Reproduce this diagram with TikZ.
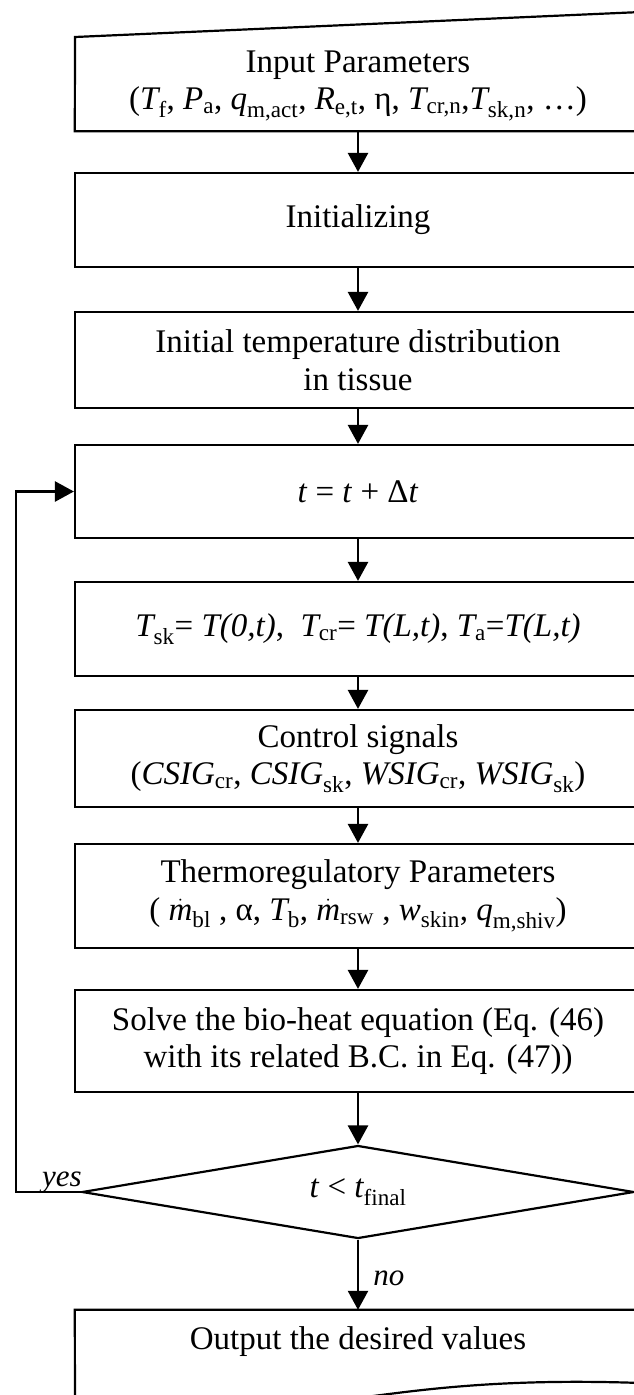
\documentclass[tikz,border=0pt]{standalone}
\usepackage{amsmath}
\usepackage{fontspec}
\setmainfont{Liberation Serif}
\usetikzlibrary{arrows.meta,shapes.geometric}
\newcommand\vi[2]{$\textit{#1}_{\text{#2}}$}
\newcommand\md[1]{$\dot{\text{\textit{m}}}_{\text{#1}}$}
\begin{document}
\begin{tikzpicture}[x=1pt,y=-1pt,
  lbl/.style={font=\fontsize{33}{37.5}\selectfont, align=center, inner sep=0pt},
  box/.style={lbl, draw, line width=2.2pt, minimum width=566pt},
  arr/.style={line width=2.6pt, -{Triangle[length=19pt,width=20pt]}},
  lab/.style={font=\fontsize{31}{34}\selectfont\itshape, inner sep=0pt}
]
\clip (0,0) rectangle (634,1395);
\fill[white] (0,0) rectangle (634,1395);
% input (manual input shape)
\node[lbl, minimum width=566pt, minimum height=90pt] (in) at (358,86)
  {Input Parameters\\(\vi{T}{f}, \vi{P}{a}, \vi{q}{m,act}, \vi{R}{e,t}, η, \vi{T}{cr,n},\vi{T}{sk,n}, …)};
\draw[line width=2.2pt] (in.south west) -- (75,37) -- (641,12) -- (in.south east) -- cycle;
\node[box, minimum height=94pt] (init) at (358,220) {Initializing};
\node[box, minimum height=96pt] (itd) at (358,360) {Initial temperature distribution\\in tissue};
\node[box, minimum height=93pt] (tdt) at (358,491.5) {\textit{t} = \textit{t} + Δ\textit{t}};
\node[box, minimum height=94pt] (tsk) at (358,629)
  {\vi{T}{sk}= \textit{T(0,t)},\ \ \vi{T}{cr}= \textit{T(L,t)}, \vi{T}{a}=\textit{T(L,t)}};
\node[box, minimum height=97pt] (cs) at (358,758.5)
  {Control signals\\(\vi{CSIG}{cr}, \vi{CSIG}{sk}, \vi{WSIG}{cr}, \vi{WSIG}{sk})};
\node[box, minimum height=104pt] (tp) at (358,896)
  {Thermoregulatory Parameters\\( \md{bl} , α, \vi{T}{b}, \md{rsw} , \vi{w}{skin}, \vi{q}{m,shiv})};
\node[box, minimum height=102pt] (solve) at (358,1041)
  {Solve the bio-heat equation (Eq. (46)\\with its related B.C. in Eq. (47))};
\node[lbl, draw, line width=2.2pt, shape=diamond, aspect=5.9, minimum width=552pt, minimum height=93pt] (dec) at (358,1192)
  {\textit{t} < \vi{t}{final}};
\node[lbl, minimum width=566pt, minimum height=64pt] (out) at (358,1342) {Output the desired values};
\draw[line width=2.2pt] (out.north west) -- (out.north east) -- (641,1383)
  .. controls (500,1378) and (420,1390) .. (358,1398)
  .. controls (250,1412) and (150,1420) .. (75,1420) -- cycle;
% connectors
\draw[arr] (in.south) -- (init.north);
\draw[arr] (init.south) -- (itd.north);
\draw[arr] (itd.south) -- (tdt.north);
\draw[arr] (tdt.south) -- (tsk.north);
\draw[arr] (tsk.south) -- (cs.north);
\draw[arr] (cs.south) -- (tp.north);
\draw[arr] (tp.south) -- (solve.north);
\draw[arr] (solve.south) -- (dec.north);
\draw[arr] (dec.south) -- node[lab, anchor=west, xshift=14pt, yshift=-4pt] {no} (out.north);
\draw[arr] (dec.west) -- ++(-65,0) coordinate (lc) |- (tdt.west);
\node[lab, anchor=base] at (62,1186) {yes};
\end{tikzpicture}
\end{document}
